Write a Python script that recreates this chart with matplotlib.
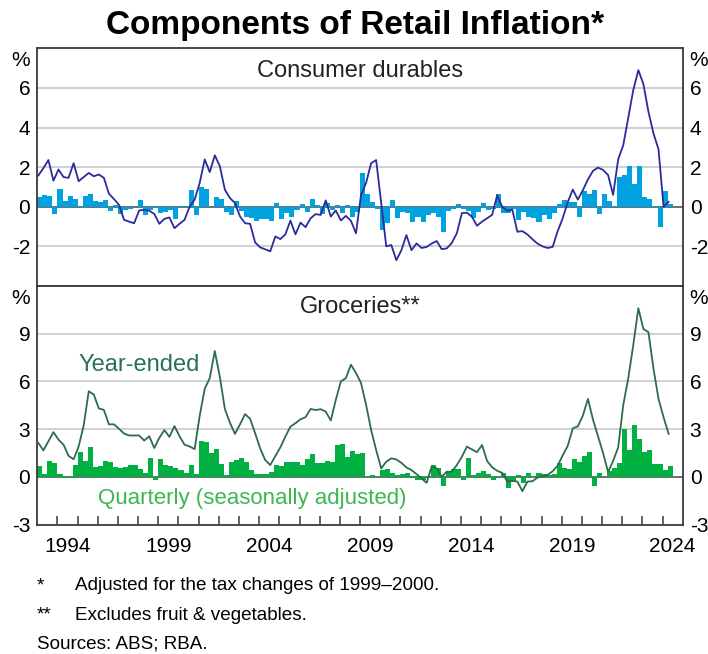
import numpy as np
import pandas as pd
import matplotlib
matplotlib.use("Agg")
import matplotlib.pyplot as plt

plt.rcParams["font.family"] = ["Liberation Sans", "DejaVu Sans"]

# quarterly data, 1993Q1 - 2024Q2
quarters = pd.period_range("1993Q1", "2024Q2", freq="Q")

durables_qtr = [
    0.5, 0.6, 0.55, -0.35, 0.9, 0.3, 0.55, 0.4, 0.05, 0.55, 0.63, 0.27, 0.24, 0.35, -0.2, 0.07,
    -0.35, -0.15, -0.1, 0.0, 0.35, -0.4, -0.15, -0.07, -0.3, -0.25, -0.15, -0.6, 0.05, 0.02, 0.85, -0.4,
    1.0, 0.9, 0.0, 0.5, 0.4, -0.25, -0.4, 0.27, -0.2, -0.5, -0.55, -0.7, -0.6, -0.6, -0.7, 0.19,
    -0.6, -0.29, -0.5, -0.15, 0.14, -0.24, 0.4, 0.1, -0.37, 0.19, -0.15, 0.1, -0.29, 0.1, -0.5, -0.24,
    1.7, 0.66, 0.24, -0.12, -1.17, -0.83, 0.36, -0.58, -0.24, -0.32, -0.75, -0.5, -0.75, -0.4, -0.3, -0.5,
    -1.29, -0.19, -0.12, 0.14, -0.12, -0.2, -0.55, -0.24, 0.19, -0.15, -0.1, 0.62, -0.32, -0.32, -0.1, -0.67,
    -0.24, -0.53, -0.58, -0.75, -0.41, -0.62, -0.32, 0.14, 0.32, 0.24, 0.24, -0.5, 0.79, 0.65, 0.84, -0.36,
    0.65, 0.31, 0.05, 1.5, 1.6, 2.07, 1.16, 2.07, 0.5, 0.41, 0.05, -1.0, 0.79, 0.14,
]
durables_ye = [
    1.58, 1.95, 2.36, 1.32, 1.88, 1.5, 1.46, 2.2, 1.29, 1.5, 1.71, 1.54, 1.63, 1.46, 0.66, 0.39,
    0.1, -0.66, -0.75, -0.83, -0.19, -0.15, -0.2, -0.36, -0.86, -0.61, -0.54, -1.08, -0.86, -0.66, 0.0, 0.36,
    1.2, 2.39, 1.75, 2.6, 2.05, 0.86, 0.44, 0.19, -0.49, -0.83, -0.86, -1.8, -2.05, -2.15, -2.25, -1.5,
    -1.63, -1.39, -0.7, -1.39, -0.8, -1.03, -0.58, -0.37, -0.41, 0.32, -0.49, -0.19, -0.69, -0.46, -0.71, -1.34,
    0.6, 1.2, 2.2, 2.36, 0.19, -2.0, -1.93, -2.7, -2.2, -1.43, -2.19, -1.85, -2.08, -2.03, -1.86, -1.73,
    -2.14, -2.1, -1.83, -1.34, -0.32, -0.3, -0.5, -0.96, -0.75, -0.58, -0.41, 0.58, 0.0, -0.2, -0.14, -1.26,
    -1.23, -1.4, -1.64, -1.86, -2.0, -2.08, -2.03, -1.23, -0.58, 0.24, 0.87, 0.36, 0.84, 1.38, 1.81, 1.98,
    1.86, 1.6, 0.6, 2.4, 3.1, 4.5, 5.9, 6.9, 6.2, 4.8, 3.7, 2.9, 0.0, 0.25,
]
groceries_qtr = [
    0.68, 0.2, 1.0, 0.85, 0.17, -0.1, 0.05, 0.74, 1.53, 1.0, 1.9, 0.6, 0.68, 1.0, 0.9, 0.64,
    0.53, 0.64, 0.74, 0.74, 0.47, 0.26, 1.2, -0.17, 1.1, 0.74, 0.68, 0.53, 0.43, 0.26, 0.74, 0.2,
    2.28, 2.17, 1.5, 1.74, 0.8, 0.1, 0.9, 1.06, 1.2, 0.9, 0.4, 0.17, 0.2, 0.2, 0.32, 0.74,
    0.68, 0.9, 0.9, 0.9, 0.74, 1.1, 1.45, 0.85, 0.85, 1.0, 0.9, 2.02, 2.09, 1.23, 1.64, 1.45,
    1.5, 0.05, 0.1, 0.0, 0.44, 0.48, 0.23, 0.13, 0.17, 0.23, -0.05, -0.2, -0.2, 0.02, 0.75, 0.55,
    -0.6, 0.38, 0.48, 0.48, -0.2, 1.18, 0.13, 0.23, 0.38, 0.19, -0.23, 0.06, 0.27, -0.72, -0.3, 0.13,
    -0.4, 0.23, -0.08, 0.23, 0.2, 0.13, 0.17, 0.87, 0.55, 0.49, 1.12, 0.91, 1.33, 1.56, -0.57, 0.23,
    0.0, 0.34, 0.55, 0.87, 2.98, 1.71, 3.26, 2.35, 1.54, 1.71, 0.8, 0.8, 0.44, 0.7,
]
groceries_ye = [
    2.13, 1.66, 2.23, 2.81, 2.34, 2.02, 1.32, 1.1, 1.91, 3.23, 5.38, 5.17, 4.3, 4.21, 3.3, 3.3,
    3.02, 2.72, 2.6, 2.6, 2.6, 2.28, 2.55, 1.81, 2.45, 2.94, 2.51, 3.19, 2.55, 2.02, 1.91, 1.74,
    3.83, 5.53, 6.21, 7.91, 6.28, 4.26, 3.4, 2.7, 3.3, 3.94, 3.65, 2.74, 1.79, 1.05, 0.74, 1.3,
    1.85, 2.53, 3.16, 3.37, 3.62, 3.75, 4.27, 4.2, 4.25, 4.1, 3.54, 4.84, 6.0, 6.21, 7.05, 6.53,
    5.9, 4.53, 2.95, 1.68, 0.53, 0.95, 1.16, 1.09, 0.88, 0.59, 0.42, 0.17, -0.1, -0.38, 0.63, 0.53,
    0.0, 0.32, 0.32, 0.74, 1.26, 1.9, 1.72, 1.55, 2.0, 1.0, 0.6, 0.38, 0.25, -0.3, -0.25, -0.3,
    -0.9, -0.3, -0.28, -0.05, 0.05, 0.12, 0.35, 0.7, 1.35, 1.95, 3.05, 3.17, 3.85, 4.9, 3.6, 2.55,
    1.5, 0.3, 1.0, 1.85, 4.5, 6.2, 8.3, 10.6, 9.3, 9.1, 6.8, 4.9, 3.75, 2.7,
]

year_labels = [1994, 1999, 2004, 2009, 2014, 2019, 2024]
top_ticks = [-2, 0, 2, 4, 6]
bottom_ticks = [-3, 0, 3, 6, 9]

BLUE_BAR = "#00a3e0"
BLUE_LINE = "#2b2c9a"
GREEN_BAR = "#00b040"
GREEN_LINE = "#2d6b4f"
GRID = "#c4c4c4"
FRAME = "#3a3a3a"

# bar starts at the beginning of each quarter
x_start = quarters.year + (quarters.quarter - 1) / 4.0

fig = plt.figure(figsize=(7.08, 6.54), dpi=100)
ax1 = fig.add_axes([0.0527, 0.5627, 0.9116, 0.3634])
ax2 = fig.add_axes([0.0527, 0.1980, 0.9116, 0.3647])


def style_panel(ax, ylim, ticks):
    ax.set_xlim(1993, 2025)
    ax.set_ylim(*ylim)
    for t in ticks:
        if t != 0 and t != ylim[0]:
            ax.axhline(t, color=GRID, linewidth=1.1, zorder=0)
    ax.axhline(0, color="#555555", linewidth=1.2, zorder=1)
    ax.set_yticks(ticks)
    ax.set_yticklabels([str(t) for t in ticks])
    ax.tick_params(axis="y", length=0, labelsize=15, pad=5,
                   labelleft=True, labelright=True)
    for s in ax.spines.values():
        s.set_color(FRAME)
        s.set_linewidth(1.3)
    ax.annotate("%", xy=(0, 1), xycoords="axes fraction", xytext=(-5, -2),
                textcoords="offset points", ha="right", va="top", fontsize=15)
    ax.annotate("%", xy=(1, 1), xycoords="axes fraction", xytext=(5, -2),
                textcoords="offset points", ha="left", va="top", fontsize=15)


style_panel(ax1, (-4, 8), top_ticks)
style_panel(ax2, (-3, 12), bottom_ticks)

ax1.bar(x_start, durables_qtr, width=0.25, align="edge", color=BLUE_BAR,
        linewidth=0, zorder=2)
ax1.plot(x_start + 0.05, durables_ye, color=BLUE_LINE, linewidth=1.3, zorder=3)

ax2.bar(x_start, groceries_qtr, width=0.25, align="edge", color=GREEN_BAR,
        linewidth=0, zorder=2)
ax2.plot(x_start + 0.05, groceries_ye, color=GREEN_LINE, linewidth=1.3, zorder=3)

# x axis: no ticks on the top panel, yearly inward ticks on the bottom
ax1.set_xticks([])
ax2.set_xticks(range(1994, 2025))
ax2.set_xticklabels([])
ax2.tick_params(axis="x", which="major", direction="in", length=6.5,
                width=1.1, color=FRAME)
ax2.set_xticks([y + 0.5 for y in year_labels], minor=True)
ax2.set_xticklabels([str(y) for y in year_labels], minor=True)
ax2.tick_params(axis="x", which="minor", length=0, labelsize=15, pad=9)

ax1.text(0.5, 0.905, "Consumer durables", transform=ax1.transAxes,
         ha="center", va="center", fontsize=17, color="#222222")
ax2.text(0.5, 0.91, "Groceries**", transform=ax2.transAxes,
         ha="center", va="center", fontsize=17, color="#222222")
ax2.text(0.064, 0.67, "Year-ended", transform=ax2.transAxes,
         ha="left", va="center", fontsize=17, color="#2d6e60")
ax2.text(0.094, 0.11, "Quarterly (seasonally adjusted)", transform=ax2.transAxes,
         ha="left", va="center", fontsize=16, color="#3cb850")

fig.text(0.502, 0.961, "Components of Retail Inflation*", ha="center",
         va="center", fontsize=24, fontweight="bold")

fig.text(37 / 708, 1 - 586 / 654, "*", ha="left", va="center", fontsize=13.6)
fig.text(75 / 708, 1 - 586 / 654, "Adjusted for the tax changes of 1999\u20132000.",
         ha="left", va="center", fontsize=13.6)
fig.text(37 / 708, 1 - 615 / 654, "**", ha="left", va="center", fontsize=13.6)
fig.text(75 / 708, 1 - 615 / 654, "Excludes fruit & vegetables.",
         ha="left", va="center", fontsize=13.6)
fig.text(37 / 708, 1 - 644 / 654, "Sources: ABS; RBA.", ha="left",
         va="center", fontsize=13.6)

fig.savefig("out.png", dpi=100)
